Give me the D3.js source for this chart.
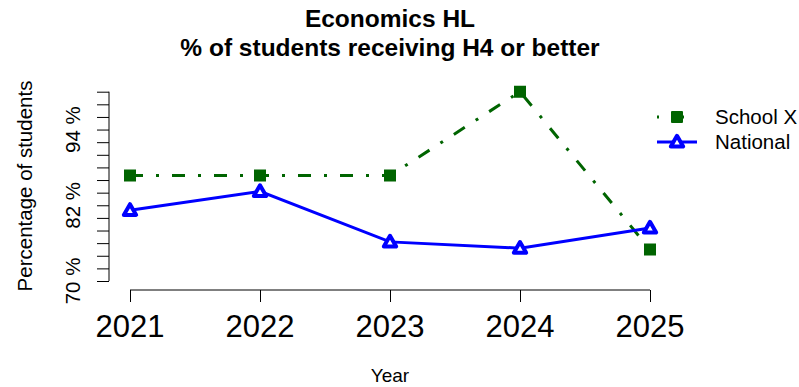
<!DOCTYPE html>
<html><head><meta charset="utf-8">
<script src="https://cdn.jsdelivr.net/npm/d3@7"></script>
<style>body{margin:0;background:#fff}svg{display:block;font-family:"Liberation Sans",Arial,sans-serif}</style>
</head><body>
<svg id="c" width="799" height="387"></svg>
<script>
const years = [2021, 2022, 2023, 2024, 2025];
const schoolX = [86.7, 86.7, 86.7, 100, 75];
const national = [81.2, 84.2, 76.2, 75.2, 78.4];
const yTickValues = d3.range(70, 101, 2);
const yLabelValues = [70, 82, 94];
const seriesNames = ["School X", "National"];
const titleLines = ["Economics HL", "% of students receiving H4 or better"];

const svg = d3.select("#c");
const x = d3.scaleLinear().domain([2021, 2025]).range([130, 650]);
const y = d3.scaleLinear().domain([70, 100]).range([281, 91.7]);

// Title
svg.selectAll("text.title").data(titleLines).enter().append("text")
  .attr("x", 390).attr("y", (d, i) => 27 + i * 29)
  .attr("text-anchor", "middle").attr("font-weight", "bold").attr("font-size", 24.5)
  .text(d => d);

// Y axis
const yAxis = d3.axisLeft(y).tickValues(yTickValues).tickSize(12).tickFormat("");
const gy = svg.append("g").attr("transform", "translate(109,0)").call(yAxis);
gy.select(".domain").attr("d", `M0,${y(70)}V${y(100)}`).attr("stroke", "#000");
gy.selectAll(".tick line").attr("stroke", "#000");
yLabelValues.forEach(v => {
  svg.append("text").attr("transform", `translate(80,${y(v)}) rotate(-90)`)
    .attr("text-anchor", "middle").attr("font-size", 20.5).text(v + " %");
});
svg.append("text").attr("transform", `translate(32,186) rotate(-90)`)
  .attr("text-anchor", "middle").attr("font-size", 20.5).text("Percentage of students");

// X axis
const xAxis = d3.axisBottom(x).tickValues(years).tickSize(12).tickFormat("");
const gx = svg.append("g").attr("transform", "translate(0,290)").call(xAxis);
gx.select(".domain").attr("d", `M${x(2021)},0H${x(2025)}`).attr("stroke", "#000");
gx.selectAll(".tick line").attr("stroke", "#000");
svg.selectAll("text.xl").data(years).enter().append("text")
  .attr("x", d => x(d)).attr("y", 337).attr("text-anchor", "middle").attr("font-size", 31)
  .text(d => d);
svg.append("text").attr("x", 390).attr("y", 382).attr("text-anchor", "middle").attr("font-size", 19).text("Year");

// Series
const green = "#006400", blue = "#0000ff";
const line = d3.line().x(d => x(d[0])).y(d => y(d[1]));
const sx = years.map((yr, i) => [yr, schoolX[i]]);
const nt = years.map((yr, i) => [yr, national[i]]);
const dash = "13,13,3,13";
svg.append("path").attr("d", line(sx)).attr("fill", "none").attr("stroke", green)
  .attr("stroke-width", 3).attr("stroke-dasharray", dash);
svg.append("path").attr("d", line(nt)).attr("fill", "none").attr("stroke", blue).attr("stroke-width", 3);

const sq = d3.symbol().type(d3.symbolSquare).size(100);
const tri = d3.symbol().type(d3.symbolTriangle).size(66);
svg.selectAll("path.sq").data(sx).enter().append("path")
  .attr("transform", d => `translate(${x(d[0])},${y(d[1])})`).attr("d", sq)
  .attr("fill", green).attr("stroke", green).attr("stroke-width", 2);
svg.selectAll("path.tri").data(nt).enter().append("path")
  .attr("transform", d => `translate(${x(d[0])},${y(d[1]) + 1})`).attr("d", tri)
  .attr("fill", "#fff").attr("stroke", blue).attr("stroke-width", 4).attr("stroke-linejoin", "round");

// Legend
const leg = [{name: seriesNames[0], color: green, dash: dash, sym: sq, fill: green, sw: 2},
             {name: seriesNames[1], color: blue, dash: null, sym: tri, fill: "#fff", sw: 4}];
leg.forEach((l, i) => {
  const ly = 117 + i * 25;
  svg.append("path").attr("d", `M657,${ly}H697`).attr("stroke", l.color).attr("stroke-width", 3)
    .attr("stroke-dasharray", l.dash ? "2,12,13,13" : null);
  svg.append("path").attr("transform", `translate(677,${ly + (i ? 1 : 0)})`).attr("d", l.sym)
    .attr("fill", l.fill).attr("stroke", l.color).attr("stroke-width", l.sw).attr("stroke-linejoin", "round");
  svg.append("text").attr("x", 715).attr("y", ly + 7).attr("font-size", 20.5).text(l.name);
});
</script>
</body></html>
